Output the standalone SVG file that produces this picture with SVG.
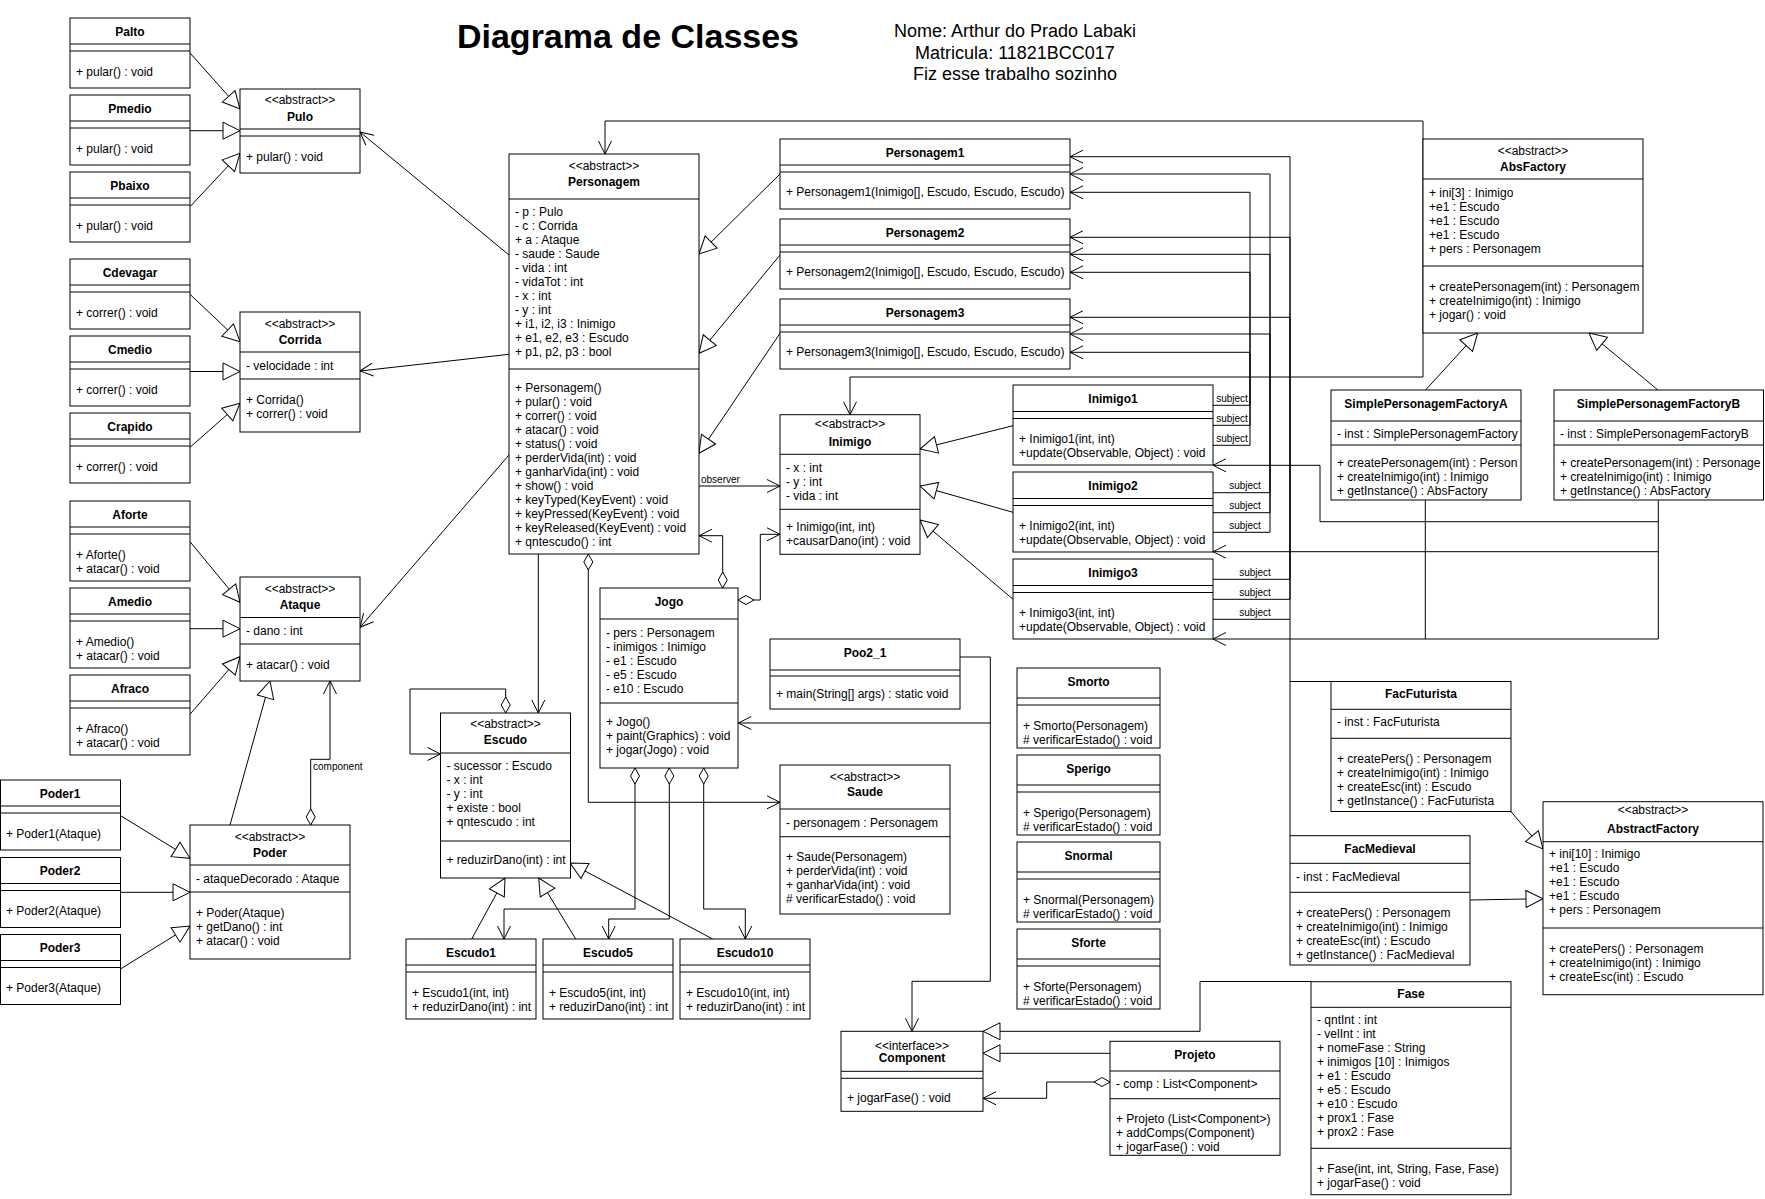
<svg xmlns="http://www.w3.org/2000/svg" width="1765" height="1199" viewBox="0 0 1765 1199">
<style>
.bx{fill:#fff;stroke:#000;stroke-width:1}
.sp{stroke:#000;stroke-width:1}
text{font-family:"Liberation Sans",Arial,Helvetica,sans-serif;font-size:12px;fill:#000}
.n{font-weight:bold;text-anchor:middle}
.c{text-anchor:middle}
.l{font-size:10px}
.e{fill:none;stroke:#000;stroke-width:1}
.ar{marker-end:url(#arr)}
.tr{marker-end:url(#tri)}
.dm{marker-start:url(#dia)}
</style>
<defs>
<marker id="arr" markerUnits="userSpaceOnUse" viewBox="-15 -10 20 20" markerWidth="20" markerHeight="20" refX="0" refY="0" orient="auto"><path d="M-13,-6.5 L0,0 L-13,6.5" fill="none" stroke="#000"/></marker>
<marker id="tri" markerUnits="userSpaceOnUse" viewBox="-20 -10 24 20" markerWidth="24" markerHeight="20" refX="0" refY="0" orient="auto"><path d="M-17,-8.5 L0,0 L-17,8.5 Z" fill="#fff" stroke="#000"/></marker>
<marker id="dia" markerUnits="userSpaceOnUse" viewBox="-2 -6 20 12" markerWidth="20" markerHeight="12" refX="0" refY="0" orient="auto"><path d="M0,0 L8,-4.5 L16,0 L8,4.5 Z" fill="#fff" stroke="#000"/></marker>
</defs>
<rect width="1765" height="1199" fill="#fff"/>

<g id="header">
<text x="628" y="48" class="n" style="font-size:34px">Diagrama de Classes</text>
<text x="1015" y="37" class="c" style="font-size:18px">Nome: Arthur do Prado Labaki</text>
<text x="1015" y="58.6" class="c" style="font-size:18px">Matricula: 11821BCC017</text>
<text x="1015" y="79.6" class="c" style="font-size:18px">Fiz esse trabalho sozinho</text>
</g>

<g id="connectors">
<path class="e tr" d="M190,53 L240,109"/>
<path class="e tr" d="M190,130.7 L240,130.7"/>
<path class="e tr" d="M190,206.7 L240,153.3"/>
<path class="e tr" d="M190,294.3 L240,341.7"/>
<path class="e tr" d="M190,371.5 L240,371.5"/>
<path class="e tr" d="M190,447.3 L240,403.3"/>
<path class="e tr" d="M190,541.7 L240,602.3"/>
<path class="e tr" d="M190,628.7 L240,628.7"/>
<path class="e tr" d="M190,714.3 L240,656.7"/>
<path class="e tr" d="M230,825 L270,681"/>
<path class="e dm ar" d="M310.7,825 V759.3 H330 V681"/>
<text x="313" y="769.5" class="l">component</text>
<path class="e tr" d="M120,815.3 L190,858.3"/>
<path class="e tr" d="M120,892.3 L190,892.3"/>
<path class="e tr" d="M120,969.3 L190,926"/>
<path class="e ar" d="M509,255 L360,132"/>
<path class="e ar" d="M509,354.3 L360,371"/>
<path class="e ar" d="M509,455 L360,627.3"/>
<path class="e tr" d="M780,174 L699,254"/>
<path class="e tr" d="M780,255 L699,353.3"/>
<path class="e tr" d="M780,333.3 L699,453.3"/>
<path class="e ar" d="M1423,240 V121 H605 V154"/>
<path class="e ar" d="M1423,240 V377 H850 V414.7"/>
<path class="e ar" d="M699,486 H780"/>
<text x="701" y="483.2" class="l">observer</text>
<path class="e dm ar" d="M722.7,588 V535.7 H699"/>
<path class="e dm ar" d="M738,600 H760.3 V534.3 H780"/>
<path class="e ar" d="M538.3,554 V713"/>
<path class="e dm ar" d="M505.7,713 V689 H410 V754 H440.5"/>
<path class="e dm ar" d="M588.3,554 V802.3 H780"/>
<path class="e dm ar" d="M635,768 V909 H504 V939"/>
<path class="e dm ar" d="M669.3,768 V919 H608.7 V939"/>
<path class="e dm ar" d="M703.7,768 V909 H745.3 V939"/>
<path class="e tr" d="M471.7,939 L505,878"/>
<path class="e tr" d="M575.7,939 L538.7,878"/>
<path class="e tr" d="M712.7,939 L570,863"/>
<path class="e tr" d="M1013,425.7 L920,449"/>
<path class="e tr" d="M1013,512.3 L920,486"/>
<path class="e tr" d="M1013,599.3 L920,520"/>
<path class="e ar" d="M1213,405.3 H1250 V192.3 H1070"/>
<path class="e ar" d="M1213,425.3 H1250 V272.3 H1070"/>
<path class="e ar" d="M1213,445.3 H1250 V352.3 H1070"/>
<path class="e ar" d="M1213,492.7 H1270 V174 H1070"/>
<path class="e ar" d="M1213,512.7 H1270 V254.3 H1070"/>
<path class="e ar" d="M1213,532.3 H1270 V334 H1070"/>
<path class="e ar" d="M1213,579.3 H1290 V156.7 H1070"/>
<path class="e ar" d="M1213,599.3 H1290 V237.3 H1070"/>
<path class="e ar" d="M1213,619.3 H1290 V317.3 H1070"/>
<text x="1232" y="402.2" class="l c">subject</text>
<text x="1232" y="422.2" class="l c">subject</text>
<text x="1232" y="442.2" class="l c">subject</text>
<text x="1245" y="489.2" class="l c">subject</text>
<text x="1245" y="509.2" class="l c">subject</text>
<text x="1245" y="529.2" class="l c">subject</text>
<text x="1255" y="576.2" class="l c">subject</text>
<text x="1255" y="596.2" class="l c">subject</text>
<text x="1255" y="616.2" class="l c">subject</text>
<path class="e" d="M1290,835.7 V619.3"/>
<path class="e" d="M1331,681.5 H1290"/>
<path class="e ar" d="M1658.3,500.3 V521.7 H1320 V465.3 H1213"/>
<path class="e ar" d="M1658.3,521.7 V551.7 H1213"/>
<path class="e ar" d="M1658.3,551.7 V639 H1213"/>
<path class="e" d="M1425.3,500.3 V639"/>
<path class="e tr" d="M1425.3,390.3 L1477.7,333"/>
<path class="e tr" d="M1658.3,390.3 L1589,333"/>
<path class="e tr" d="M1510.7,811.3 L1543,849"/>
<path class="e tr" d="M1470,900 L1543,898.7"/>
<path class="e tr" d="M1311,981.5 H1200 V1031.3 H983"/>
<path class="e tr" d="M1110,1053.3 H983"/>
<path class="e dm ar" d="M1110,1082 H1046.7 V1098.3 H983"/>
<path class="e ar" d="M960,657 H990.3 V723 H738.3"/>
<path class="e ar" d="M990.3,723 V981.3 H912 V1031.3"/>
</g>

<g id="Palto"><rect class="bx" x="70" y="18" width="120" height="70"/><line class="sp" x1="70" y1="44" x2="190" y2="44"/><line class="sp" x1="70" y1="51" x2="190" y2="51"/><text x="130" y="35.7" class="n">Palto</text><text x="76" y="75.7">+ pular() : void</text></g>
<g id="Pmedio"><rect class="bx" x="70" y="95" width="120" height="70"/><line class="sp" x1="70" y1="121" x2="190" y2="121"/><line class="sp" x1="70" y1="128" x2="190" y2="128"/><text x="130" y="112.7" class="n">Pmedio</text><text x="76" y="152.7">+ pular() : void</text></g>
<g id="Pbaixo"><rect class="bx" x="70" y="172" width="120" height="70"/><line class="sp" x1="70" y1="198" x2="190" y2="198"/><line class="sp" x1="70" y1="205" x2="190" y2="205"/><text x="130" y="189.7" class="n">Pbaixo</text><text x="76" y="229.7">+ pular() : void</text></g>
<g id="Pulo"><rect class="bx" x="240" y="89" width="120" height="84"/><line class="sp" x1="240" y1="129" x2="360" y2="129"/><line class="sp" x1="240" y1="136" x2="360" y2="136"/><text x="300" y="104" class="c">&lt;&lt;abstract&gt;&gt;</text><text x="300" y="120.7" class="n">Pulo</text><text x="246" y="160.7">+ pular() : void</text></g>

<g id="Cdevagar"><rect class="bx" x="70" y="259" width="120" height="70"/><line class="sp" x1="70" y1="285" x2="190" y2="285"/><line class="sp" x1="70" y1="292" x2="190" y2="292"/><text x="130" y="276.7" class="n">Cdevagar</text><text x="76" y="316.7">+ correr() : void</text></g>
<g id="Cmedio"><rect class="bx" x="70" y="336" width="120" height="70"/><line class="sp" x1="70" y1="362" x2="190" y2="362"/><line class="sp" x1="70" y1="369" x2="190" y2="369"/><text x="130" y="353.7" class="n">Cmedio</text><text x="76" y="393.7">+ correr() : void</text></g>
<g id="Crapido"><rect class="bx" x="70" y="413" width="120" height="70"/><line class="sp" x1="70" y1="439" x2="190" y2="439"/><line class="sp" x1="70" y1="446" x2="190" y2="446"/><text x="130" y="430.7" class="n">Crapido</text><text x="76" y="470.7">+ correr() : void</text></g>
<g id="Corrida"><rect class="bx" x="240" y="312" width="120" height="120"/><line class="sp" x1="240" y1="352" x2="360" y2="352"/><line class="sp" x1="240" y1="379" x2="360" y2="379"/><text x="300" y="327.7" class="c">&lt;&lt;abstract&gt;&gt;</text><text x="300" y="343.7" class="n">Corrida</text><text x="246" y="369.7">- velocidade : int</text><text x="246" y="404">+ Corrida()</text><text x="246" y="417.7">+ correr() : void</text></g>

<g id="Aforte"><rect class="bx" x="70" y="501" width="120" height="80"/><line class="sp" x1="70" y1="527" x2="190" y2="527"/><line class="sp" x1="70" y1="534" x2="190" y2="534"/><text x="130" y="518.7" class="n">Aforte</text><text x="76" y="558.7">+ Aforte()</text><text x="76" y="572.7">+ atacar() : void</text></g>
<g id="Amedio"><rect class="bx" x="70" y="588" width="120" height="80"/><line class="sp" x1="70" y1="614" x2="190" y2="614"/><line class="sp" x1="70" y1="621" x2="190" y2="621"/><text x="130" y="605.7" class="n">Amedio</text><text x="76" y="645.7">+ Amedio()</text><text x="76" y="659.7">+ atacar() : void</text></g>
<g id="Afraco"><rect class="bx" x="70" y="675" width="120" height="80"/><line class="sp" x1="70" y1="701" x2="190" y2="701"/><line class="sp" x1="70" y1="708" x2="190" y2="708"/><text x="130" y="692.7" class="n">Afraco</text><text x="76" y="732.7">+ Afraco()</text><text x="76" y="746.7">+ atacar() : void</text></g>
<g id="Ataque"><rect class="bx" x="240" y="577" width="120" height="104"/><line class="sp" x1="240" y1="617.5" x2="360" y2="617.5"/><line class="sp" x1="240" y1="644" x2="360" y2="644"/><text x="300" y="592.7" class="c">&lt;&lt;abstract&gt;&gt;</text><text x="300" y="608.7" class="n">Ataque</text><text x="246" y="634.7">- dano : int</text><text x="246" y="668.7">+ atacar() : void</text></g>

<g id="Poder1"><rect class="bx" x="0.5" y="780" width="120" height="70"/><line class="sp" x1="0.5" y1="806" x2="120.5" y2="806"/><line class="sp" x1="0.5" y1="813" x2="120.5" y2="813"/><text x="60" y="797.7" class="n">Poder1</text><text x="6" y="837.7">+ Poder1(Ataque)</text></g>
<g id="Poder2"><rect class="bx" x="0.5" y="857.5" width="120" height="70"/><line class="sp" x1="0.5" y1="883.5" x2="120.5" y2="883.5"/><line class="sp" x1="0.5" y1="890.5" x2="120.5" y2="890.5"/><text x="60" y="875" class="n">Poder2</text><text x="6" y="915">+ Poder2(Ataque)</text></g>
<g id="Poder3"><rect class="bx" x="0.5" y="934.5" width="120" height="70"/><line class="sp" x1="0.5" y1="960.5" x2="120.5" y2="960.5"/><line class="sp" x1="0.5" y1="967.5" x2="120.5" y2="967.5"/><text x="60" y="952" class="n">Poder3</text><text x="6" y="992">+ Poder3(Ataque)</text></g>
<g id="Poder"><rect class="bx" x="190" y="825" width="160" height="134"/><line class="sp" x1="190" y1="865" x2="350" y2="865"/><line class="sp" x1="190" y1="892" x2="350" y2="892"/><text x="270" y="840.7" class="c">&lt;&lt;abstract&gt;&gt;</text><text x="270" y="856.7" class="n">Poder</text><text x="196" y="882.7">- ataqueDecorado : Ataque</text><text x="196" y="916.7">+ Poder(Ataque)</text><text x="196" y="930.7">+ getDano() : int</text><text x="196" y="944.7">+ atacar() : void</text></g>

<g id="Personagem"><rect class="bx" x="509" y="154" width="190" height="400"/><line class="sp" x1="509" y1="199" x2="699" y2="199"/><line class="sp" x1="509" y1="369" x2="699" y2="369"/><text x="604" y="169.7" class="c">&lt;&lt;abstract&gt;&gt;</text><text x="604" y="185.7" class="n">Personagem</text>
<text x="515" y="216.3"><tspan x="515">- p : Pulo</tspan><tspan x="515" dy="14">- c : Corrida</tspan><tspan x="515" dy="14">+ a : Ataque</tspan><tspan x="515" dy="14">- saude : Saude</tspan><tspan x="515" dy="14">- vida : int</tspan><tspan x="515" dy="14">- vidaTot : int</tspan><tspan x="515" dy="14">- x : int</tspan><tspan x="515" dy="14">- y : int</tspan><tspan x="515" dy="14">+ i1, i2, i3 : Inimigo</tspan><tspan x="515" dy="14">+ e1, e2, e3 : Escudo</tspan><tspan x="515" dy="14">+ p1, p2, p3 : bool</tspan></text>
<text x="515" y="391.7"><tspan x="515">+ Personagem()</tspan><tspan x="515" dy="14">+ pular() : void</tspan><tspan x="515" dy="14">+ correr() : void</tspan><tspan x="515" dy="14">+ atacar() : void</tspan><tspan x="515" dy="14">+ status() : void</tspan><tspan x="515" dy="14">+ perderVida(int) : void</tspan><tspan x="515" dy="14">+ ganharVida(int) : void</tspan><tspan x="515" dy="14">+ show() : void</tspan><tspan x="515" dy="14">+ keyTyped(KeyEvent) : void</tspan><tspan x="515" dy="14">+ keyPressed(KeyEvent) : void</tspan><tspan x="515" dy="14">+ keyReleased(KeyEvent) : void</tspan><tspan x="515" dy="14">+ qntescudo() : int</tspan></text></g>

<g id="Personagem1"><rect class="bx" x="780" y="139" width="290" height="70"/><line class="sp" x1="780" y1="165" x2="1070" y2="165"/><line class="sp" x1="780" y1="172" x2="1070" y2="172"/><text x="925" y="156.7" class="n">Personagem1</text><text x="786" y="196.3">+ Personagem1(Inimigo[], Escudo, Escudo, Escudo)</text></g>
<g id="Personagem2"><rect class="bx" x="780" y="219" width="290" height="70"/><line class="sp" x1="780" y1="245" x2="1070" y2="245"/><line class="sp" x1="780" y1="252" x2="1070" y2="252"/><text x="925" y="236.7" class="n">Personagem2</text><text x="786" y="276.3">+ Personagem2(Inimigo[], Escudo, Escudo, Escudo)</text></g>
<g id="Personagem3"><rect class="bx" x="780" y="299" width="290" height="70"/><line class="sp" x1="780" y1="325" x2="1070" y2="325"/><line class="sp" x1="780" y1="332" x2="1070" y2="332"/><text x="925" y="316.7" class="n">Personagem3</text><text x="786" y="356.3">+ Personagem3(Inimigo[], Escudo, Escudo, Escudo)</text></g>

<g id="Inimigo"><rect class="bx" x="780" y="414.7" width="140" height="139.6"/><line class="sp" x1="780" y1="454.3" x2="920" y2="454.3"/><line class="sp" x1="780" y1="509.3" x2="920" y2="509.3"/><text x="850" y="428.3" class="c">&lt;&lt;abstract&gt;&gt;</text><text x="850" y="445.7" class="n">Inimigo</text><text x="786" y="471.7">- x : int</text><text x="786" y="485.7">- y : int</text><text x="786" y="499.7">- vida : int</text><text x="786" y="531.3">+ Inimigo(int, int)</text><text x="786" y="545.3">+causarDano(int) : void</text></g>

<g id="Inimigo1"><rect class="bx" x="1013" y="385" width="200" height="80"/><line class="sp" x1="1013" y1="411.5" x2="1213" y2="411.5"/><line class="sp" x1="1013" y1="418.5" x2="1213" y2="418.5"/><text x="1113" y="402.7" class="n">Inimigo1</text><text x="1019" y="442.7">+ Inimigo1(int, int)</text><text x="1019" y="456.7">+update(Observable, Object) : void</text></g>
<g id="Inimigo2"><rect class="bx" x="1013" y="472" width="200" height="80"/><line class="sp" x1="1013" y1="498.5" x2="1213" y2="498.5"/><line class="sp" x1="1013" y1="505.5" x2="1213" y2="505.5"/><text x="1113" y="489.7" class="n">Inimigo2</text><text x="1019" y="529.7">+ Inimigo2(int, int)</text><text x="1019" y="543.7">+update(Observable, Object) : void</text></g>
<g id="Inimigo3"><rect class="bx" x="1013" y="559" width="200" height="80"/><line class="sp" x1="1013" y1="585.5" x2="1213" y2="585.5"/><line class="sp" x1="1013" y1="592.5" x2="1213" y2="592.5"/><text x="1113" y="576.7" class="n">Inimigo3</text><text x="1019" y="616.5">+ Inimigo3(int, int)</text><text x="1019" y="630.5">+update(Observable, Object) : void</text></g>

<g id="Jogo"><rect class="bx" x="600" y="588" width="138" height="180"/><line class="sp" x1="600" y1="619" x2="738" y2="619"/><line class="sp" x1="600" y1="703" x2="738" y2="703"/><text x="669" y="605.7" class="n">Jogo</text>
<text x="606" y="636.7"><tspan x="606">- pers : Personagem</tspan><tspan x="606" dy="14">- inimigos : Inimigo</tspan><tspan x="606" dy="14">- e1 : Escudo</tspan><tspan x="606" dy="14">- e5 : Escudo</tspan><tspan x="606" dy="14">- e10 : Escudo</tspan></text>
<text x="606" y="725.7"><tspan x="606">+ Jogo()</tspan><tspan x="606" dy="14">+ paint(Graphics) : void</tspan><tspan x="606" dy="14">+ jogar(Jogo) : void</tspan></text></g>

<g id="Poo2_1"><rect class="bx" x="770" y="639" width="190" height="70"/><line class="sp" x1="770" y1="670" x2="960" y2="670"/><line class="sp" x1="770" y1="676" x2="960" y2="676"/><text x="865" y="657" class="n">Poo2_1</text><text x="776" y="697.7">+ main(String[] args) : static void</text></g>

<g id="Escudo"><rect class="bx" x="440.5" y="713" width="130" height="165"/><line class="sp" x1="440.5" y1="753" x2="570.5" y2="753"/><line class="sp" x1="440.5" y1="841" x2="570.5" y2="841"/><text x="505.5" y="728.3" class="c">&lt;&lt;abstract&gt;&gt;</text><text x="505.5" y="744.3" class="n">Escudo</text>
<text x="446.5" y="770.3"><tspan x="446.5">- sucessor : Escudo</tspan><tspan x="446.5" dy="14">- x : int</tspan><tspan x="446.5" dy="14">- y : int</tspan><tspan x="446.5" dy="14">+ existe : bool</tspan><tspan x="446.5" dy="14">+ qntescudo : int</tspan></text>
<text x="446.5" y="864.3">+ reduzirDano(int) : int</text></g>

<g id="Escudo1"><rect class="bx" x="406" y="939" width="130" height="80"/><line class="sp" x1="406" y1="965" x2="536" y2="965"/><line class="sp" x1="406" y1="972" x2="536" y2="972"/><text x="471" y="956.7" class="n">Escudo1</text><text x="412" y="996.7">+ Escudo1(int, int)</text><text x="412" y="1010.7">+ reduzirDano(int) : int</text></g>
<g id="Escudo5"><rect class="bx" x="543" y="939" width="130" height="80"/><line class="sp" x1="543" y1="965" x2="673" y2="965"/><line class="sp" x1="543" y1="972" x2="673" y2="972"/><text x="608" y="956.7" class="n">Escudo5</text><text x="549" y="996.7">+ Escudo5(int, int)</text><text x="549" y="1010.7">+ reduzirDano(int) : int</text></g>
<g id="Escudo10"><rect class="bx" x="680" y="939" width="130" height="80"/><line class="sp" x1="680" y1="965" x2="810" y2="965"/><line class="sp" x1="680" y1="972" x2="810" y2="972"/><text x="745" y="956.7" class="n">Escudo10</text><text x="686" y="996.7">+ Escudo10(int, int)</text><text x="686" y="1010.7">+ reduzirDano(int) : int</text></g>

<g id="Saude"><rect class="bx" x="780" y="765" width="170" height="149"/><line class="sp" x1="780" y1="809" x2="950" y2="809"/><line class="sp" x1="780" y1="836.7" x2="950" y2="836.7"/><text x="865" y="780.7" class="c">&lt;&lt;abstract&gt;&gt;</text><text x="865" y="795.7" class="n">Saude</text><text x="786" y="826.7">- personagem : Personagem</text>
<text x="786" y="860.7"><tspan x="786">+ Saude(Personagem)</tspan><tspan x="786" dy="14">+ perderVida(int) : void</tspan><tspan x="786" dy="14">+ ganharVida(int) : void</tspan><tspan x="786" dy="14"># verificarEstado() : void</tspan></text></g>

<g id="Smorto"><rect class="bx" x="1017" y="668" width="143" height="80"/><line class="sp" x1="1017" y1="698" x2="1160" y2="698"/><line class="sp" x1="1017" y1="705" x2="1160" y2="705"/><text x="1088.5" y="685.7" class="n">Smorto</text><text x="1023" y="729.7">+ Smorto(Personagem)</text><text x="1023" y="743.7"># verificarEstado() : void</text></g>
<g id="Sperigo"><rect class="bx" x="1017" y="755" width="143" height="80"/><line class="sp" x1="1017" y1="785" x2="1160" y2="785"/><line class="sp" x1="1017" y1="792" x2="1160" y2="792"/><text x="1088.5" y="772.7" class="n">Sperigo</text><text x="1023" y="816.7">+ Sperigo(Personagem)</text><text x="1023" y="830.7"># verificarEstado() : void</text></g>
<g id="Snormal"><rect class="bx" x="1017" y="842" width="143" height="80"/><line class="sp" x1="1017" y1="872" x2="1160" y2="872"/><line class="sp" x1="1017" y1="879" x2="1160" y2="879"/><text x="1088.5" y="859.7" class="n">Snormal</text><text x="1023" y="903.7">+ Snormal(Personagem)</text><text x="1023" y="917.7"># verificarEstado() : void</text></g>
<g id="Sforte"><rect class="bx" x="1017" y="929" width="143" height="80"/><line class="sp" x1="1017" y1="959" x2="1160" y2="959"/><line class="sp" x1="1017" y1="966" x2="1160" y2="966"/><text x="1088.5" y="946.7" class="n">Sforte</text><text x="1023" y="990.7">+ Sforte(Personagem)</text><text x="1023" y="1004.7"># verificarEstado() : void</text></g>

<g id="AbsFactory"><rect class="bx" x="1423" y="139" width="220" height="194"/><line class="sp" x1="1423" y1="179" x2="1643" y2="179"/><line class="sp" x1="1423" y1="266" x2="1643" y2="266"/><text x="1533" y="154.7" class="c">&lt;&lt;abstract&gt;&gt;</text><text x="1533" y="170.7" class="n">AbsFactory</text>
<text x="1429" y="196.7"><tspan x="1429">+ ini[3] : Inimigo</tspan><tspan x="1429" dy="14">+e1 : Escudo</tspan><tspan x="1429" dy="14">+e1 : Escudo</tspan><tspan x="1429" dy="14">+e1 : Escudo</tspan><tspan x="1429" dy="14">+ pers : Personagem</tspan></text>
<text x="1429" y="290.7"><tspan x="1429">+ createPersonagem(int) : Personagem</tspan><tspan x="1429" dy="14">+ createInimigo(int) : Inimigo</tspan><tspan x="1429" dy="14">+ jogar() : void</tspan></text></g>

<g id="SimplePersonagemFactoryA"><rect class="bx" x="1331" y="390" width="190" height="110"/><line class="sp" x1="1331" y1="421" x2="1521" y2="421"/><line class="sp" x1="1331" y1="445" x2="1521" y2="445"/><text x="1426" y="408.3" class="n">SimplePersonagemFactoryA</text><text x="1337" y="438.3">- inst : SimplePersonagemFactory</text>
<text x="1337" y="467.3"><tspan x="1337">+ createPersonagem(int) : Person</tspan><tspan x="1337" dy="14">+ createInimigo(int) : Inimigo</tspan><tspan x="1337" dy="14">+ getInstance() : AbsFactory</tspan></text></g>
<g id="SimplePersonagemFactoryB"><rect class="bx" x="1554" y="390" width="209.5" height="110"/><line class="sp" x1="1554" y1="421" x2="1763.5" y2="421"/><line class="sp" x1="1554" y1="445" x2="1763.5" y2="445"/><text x="1658.5" y="408.3" class="n">SimplePersonagemFactoryB</text><text x="1560" y="438.3">- inst : SimplePersonagemFactoryB</text>
<text x="1560" y="467.3"><tspan x="1560">+ createPersonagem(int) : Personage</tspan><tspan x="1560" dy="14">+ createInimigo(int) : Inimigo</tspan><tspan x="1560" dy="14">+ getInstance() : AbsFactory</tspan></text></g>

<g id="FacFuturista"><rect class="bx" x="1331" y="681.5" width="180" height="130"/><line class="sp" x1="1331" y1="709.3" x2="1511" y2="709.3"/><line class="sp" x1="1331" y1="738.3" x2="1511" y2="738.3"/><text x="1421" y="698.3" class="n">FacFuturista</text><text x="1337" y="726.3">- inst : FacFuturista</text>
<text x="1337" y="762.7"><tspan x="1337">+ createPers() : Personagem</tspan><tspan x="1337" dy="14">+ createInimigo(int) : Inimigo</tspan><tspan x="1337" dy="14">+ createEsc(int) : Escudo</tspan><tspan x="1337" dy="14">+ getInstance() : FacFuturista</tspan></text></g>
<g id="FacMedieval"><rect class="bx" x="1290" y="835.7" width="180" height="129.3"/><line class="sp" x1="1290" y1="863.3" x2="1470" y2="863.3"/><line class="sp" x1="1290" y1="892.3" x2="1470" y2="892.3"/><text x="1380" y="853" class="n">FacMedieval</text><text x="1296" y="880.7">- inst : FacMedieval</text>
<text x="1296" y="916.7"><tspan x="1296">+ createPers() : Personagem</tspan><tspan x="1296" dy="14">+ createInimigo(int) : Inimigo</tspan><tspan x="1296" dy="14">+ createEsc(int) : Escudo</tspan><tspan x="1296" dy="14">+ getInstance() : FacMedieval</tspan></text></g>
<g id="AbstractFactory"><rect class="bx" x="1543" y="801.7" width="220" height="193"/><line class="sp" x1="1543" y1="841.7" x2="1763" y2="841.7"/><line class="sp" x1="1543" y1="928" x2="1763" y2="928"/><text x="1653" y="813.7" class="c">&lt;&lt;abstract&gt;&gt;</text><text x="1653" y="832.7" class="n">AbstractFactory</text>
<text x="1549" y="858.3"><tspan x="1549">+ ini[10] : Inimigo</tspan><tspan x="1549" dy="14">+e1 : Escudo</tspan><tspan x="1549" dy="14">+e1 : Escudo</tspan><tspan x="1549" dy="14">+e1 : Escudo</tspan><tspan x="1549" dy="14">+ pers : Personagem</tspan></text>
<text x="1549" y="952.7"><tspan x="1549">+ createPers() : Personagem</tspan><tspan x="1549" dy="14">+ createInimigo(int) : Inimigo</tspan><tspan x="1549" dy="14">+ createEsc(int) : Escudo</tspan></text></g>

<g id="Fase"><rect class="bx" x="1311" y="981.7" width="200" height="213"/><line class="sp" x1="1311" y1="1007.3" x2="1511" y2="1007.3"/><line class="sp" x1="1311" y1="1148.3" x2="1511" y2="1148.3"/><text x="1411" y="998.3" class="n">Fase</text>
<text x="1317" y="1024.3"><tspan x="1317">- qntInt : int</tspan><tspan x="1317" dy="14">- velInt : int</tspan><tspan x="1317" dy="14">+ nomeFase : String</tspan><tspan x="1317" dy="14">+ inimigos [10] : Inimigos</tspan><tspan x="1317" dy="14">+ e1 : Escudo</tspan><tspan x="1317" dy="14">+ e5 : Escudo</tspan><tspan x="1317" dy="14">+ e10 : Escudo</tspan><tspan x="1317" dy="14">+ prox1 : Fase</tspan><tspan x="1317" dy="14">+ prox2 : Fase</tspan></text>
<text x="1317" y="1172.7"><tspan x="1317">+ Fase(int, int, String, Fase, Fase)</tspan><tspan x="1317" dy="14">+ jogarFase() : void</tspan></text></g>

<g id="Component"><rect class="bx" x="841" y="1031.3" width="142" height="80"/><line class="sp" x1="841" y1="1071.3" x2="983" y2="1071.3"/><line class="sp" x1="841" y1="1078.3" x2="983" y2="1078.3"/><text x="912" y="1049.7" class="c">&lt;&lt;interface&gt;&gt;</text><text x="912" y="1062.3" class="n">Component</text><text x="847" y="1102.3">+ jogarFase() : void</text></g>
<g id="Projeto"><rect class="bx" x="1110" y="1041.3" width="170" height="114"/><line class="sp" x1="1110" y1="1071" x2="1280" y2="1071"/><line class="sp" x1="1110" y1="1098.7" x2="1280" y2="1098.7"/><text x="1195" y="1058.7" class="n">Projeto</text><text x="1116" y="1088.3">- comp : List&lt;Component&gt;</text>
<text x="1116" y="1123"><tspan x="1116">+ Projeto (List&lt;Component&gt;)</tspan><tspan x="1116" dy="14">+ addComps(Component)</tspan><tspan x="1116" dy="14">+ jogarFase() : void</tspan></text></g>
</svg>
